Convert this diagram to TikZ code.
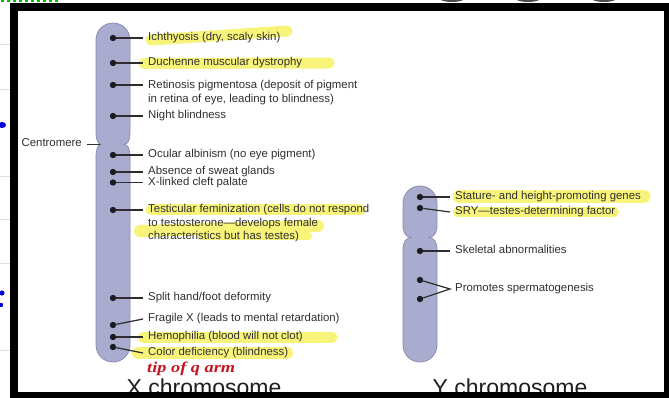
\documentclass[tikz,border=0pt]{standalone}
\usepackage{fontspec}
\usepackage{graphicx}
\setmainfont{Liberation Sans}
\newfontfamily\handfont{Liberation Serif}

\definecolor{chromofill}{RGB}{169,172,206}
\definecolor{chromoline}{RGB}{138,141,178}
\definecolor{locusdot}{RGB}{28,28,32}
\definecolor{leadline}{RGB}{45,45,48}
\definecolor{labeltext}{RGB}{48,48,48}
\definecolor{captiontext}{RGB}{30,30,30}
\definecolor{marker}{RGB}{248,244,122}
\definecolor{inkred}{RGB}{196,22,34}
\definecolor{sheetgrid}{RGB}{222,222,222}

\begin{document}
\begin{tikzpicture}[x=1pt,y=-1pt,
  chromo/.style={fill=chromofill, draw=chromoline, line width=0.8pt},
  locus/.style={circle, fill=locusdot, inner sep=0pt, minimum size=6.4pt},
  lbl/.style={anchor=west, inner sep=0pt, text height=8pt, text depth=3.2pt,
    font=\fontsize{11.4}{13.7}\selectfont, text=labeltext},
  lead/.style={draw=leadline, line width=1.2pt},
  hl/.style={draw=marker, line width=11pt, line cap=round},
  caption/.style={anchor=base, inner sep=0pt, text=captiontext,
    font=\fontsize{23}{26}\selectfont},
  ]
\useasboundingbox (0,0) rectangle (669,398);
\fill[white] (0,0) rectangle (669,398);

% spreadsheet grid and stray pen marks around the frame
\foreach \gy in {44,89,176,219,263,350}
  \draw[sheetgrid, line width=0.6pt] (0,\gy) -- (10,\gy);
\draw[green!75!black, line width=2.6pt, dash pattern=on 3pt off 3pt] (1,1) -- (60,1);
\fill[blue!85!black] (2,125) ellipse (4 and 3);
\fill[blue!85!black] (2,293) circle (2.6);
\fill[blue!85!black] (1,305) circle (2.2);
\fill[gray!60!black] (452,-2) ellipse (13 and 4);
\fill[gray!60!black] (528,-2) ellipse (13 and 4);
\fill[gray!60!black] (604,-2) ellipse (13 and 4);

% ---------- X chromosome ----------
\draw[chromo] (96,40) arc[start angle=180,end angle=360,radius=17]
  -- (130,133) .. controls (130,140) and (128,144) .. (124,144.5)
  .. controls (128,145) and (130,149) .. (130,156)
  -- (130,345) arc[start angle=0,end angle=180,radius=17]
  -- (96,156) .. controls (96,149) and (98,145) .. (101,144.5)
  .. controls (98,144) and (96,140) .. (96,133) -- cycle;
\coordinate (xpinch) at (100,144.5);

% ---------- Y chromosome ----------
\draw[chromo] (403,203) arc[start angle=180,end angle=360,radius=17]
  -- (437,225) .. controls (437,233) and (434,237) .. (429,237.5)
  .. controls (434,238) and (437,242) .. (437,250)
  -- (437,345) arc[start angle=0,end angle=180,radius=17]
  -- (403,250) .. controls (403,242) and (406,238) .. (411,237.5)
  .. controls (406,237) and (403,233) .. (403,225) -- cycle;

% ---------- marker highlights ----------
\draw[hl] (151,40) -- (287,31);
\draw[hl] (144,63.5) -- (329,63);
\draw[hl] (151,210) -- (360,210);
\draw[hl, line width=12pt] (140,231) -- (318,226);
\draw[hl, line width=8pt] (202,236) -- (308,236);
\draw[hl] (143,337.5) -- (332,337.5);
\draw[hl, line width=12pt] (138,353) -- (287,353);
\draw[hl, line width=13pt] (459,196.5) -- (644,196.5);
\draw[hl, line width=10pt] (458,212) -- (614,212);

% ---------- X chromosome loci ----------
\node[locus] (x1) at (113,38) {};
\node[locus] (x2) at (113,63) {};
\node[locus] (x3) at (113,85) {};
\node[locus] (x4) at (113,116) {};
\node[locus] (x5) at (113,155) {};
\node[locus] (x6) at (113,172) {};
\node[locus] (x7) at (113,182.5) {};
\node[locus] (x8) at (113,210) {};
\node[locus] (x9) at (113,298) {};
\node[locus] (x10) at (113,325) {};
\node[locus] (x11) at (113,337) {};
\node[locus] (x12) at (113,347) {};

\node[lbl] (lx1) at (148,38) {Ichthyosis (dry, scaly skin)};
\node[lbl] (lx2) at (148,63) {Duchenne muscular dystrophy};
\node[lbl] (lx3) at (148,86) {Retinosis pigmentosa (deposit of pigment};
\node[lbl] (lx3b) at (148,100) {in retina of eye, leading to blindness)};
\node[lbl] (lx4) at (148,116) {Night blindness};
\node[lbl] (lx5) at (148,155) {Ocular albinism (no eye pigment)};
\node[lbl] (lx6) at (148,172) {Absence of sweat glands};
\node[lbl] (lx7) at (148,183) {X-linked cleft palate};
\node[lbl] (lx8) at (148,210) {Testicular feminization (cells do not respond};
\node[lbl] (lx8b) at (148,224) {to testosterone\textemdash develops female};
\node[lbl] (lx8c) at (148,237.5) {characteristics but has testes)};
\node[lbl] (lx9) at (148,298) {Split hand/foot deformity};
\node[lbl] (lx10) at (148,319) {Fragile X (leads to mental retardation)};
\node[lbl] (lx11) at (148,337) {Hemophilia (blood will not clot)};
\node[lbl] (lx12) at (148,353) {Color deficiency (blindness)};

\foreach \i in {1,2,3,4,5,6,7,8,9,11}
  \draw[lead] (x\i) -- ([xshift=-5pt]x\i -| lx\i.west);
\draw[lead] (x10) -- ([xshift=-5pt]lx10.west);
\draw[lead] (x12) -- ([xshift=-5pt]lx12.west);

\node[lbl, anchor=east] (cen) at (82,144.5) {Centromere};
\draw[lead, line width=0.9pt] ([xshift=5pt]cen.east) -- (xpinch);

% ---------- Y chromosome loci ----------
\node[locus] (y1) at (420,197) {};
\node[locus] (y2) at (420,208) {};
\node[locus] (y3) at (420,251) {};
\node[locus] (y4) at (420,280) {};
\node[locus] (y5) at (420,299) {};

\node[lbl] (ly1) at (455,197) {Stature- and height-promoting genes};
\node[lbl] (ly2) at (455,212) {SRY\textemdash testes-determining factor};
\node[lbl] (ly3) at (455,251) {Skeletal abnormalities};
\node[lbl] (ly4) at (455,289) {Promotes spermatogenesis};

\draw[lead] (y1) -- ([xshift=-5pt]y1 -| ly1.west);
\draw[lead] (y2) -- ([xshift=-5pt]ly2.west);
\draw[lead] (y3) -- ([xshift=-5pt]y3 -| ly3.west);
\draw[lead] (y4) -- ([xshift=-5pt]ly4.west) -- (y5);

% ---------- handwritten note and captions ----------
\node[anchor=west, inner sep=0pt, text=inkred] (note) at (147,369)
  {\handfont\bfseries\itshape\fontsize{15}{15}\selectfont\scalebox{1.22}[1]{tip of q arm}};
\node[caption] (xcap) at (204,395) {X chromosome};
\node[caption] (ycap) at (510,395) {Y chromosome};

% ---------- black window frame ----------
\fill[black] (10,3) rectangle (669,11);
\fill[black] (10,3) rectangle (18,398);
\fill[black] (664,3) rectangle (669,398);
\fill[black] (10,392) rectangle (669,398);
\end{tikzpicture}
\end{document}
